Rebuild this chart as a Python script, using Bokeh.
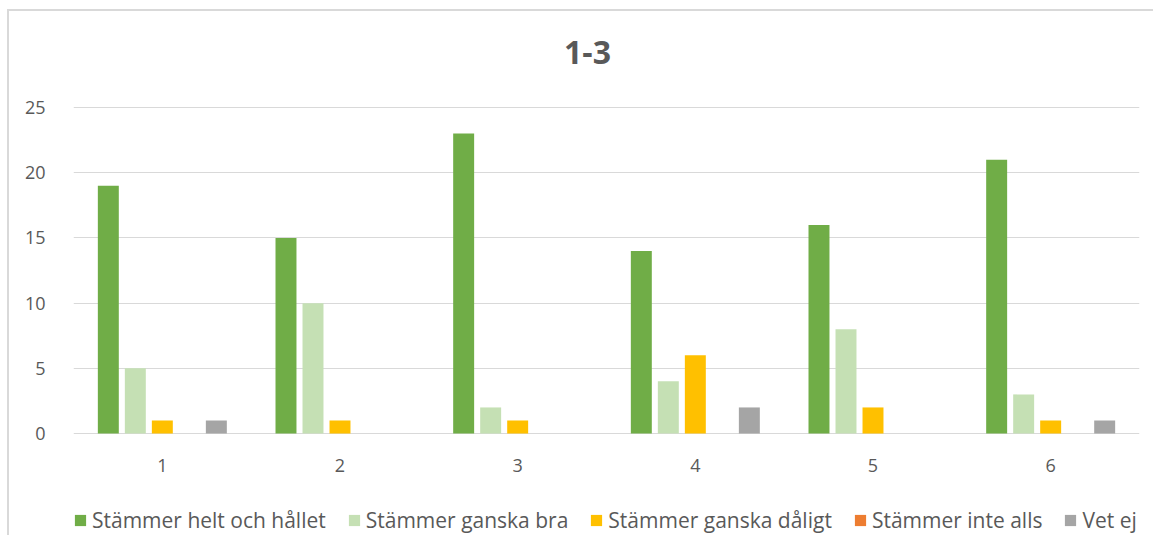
from bokeh.plotting import figure
from bokeh.models import FactorRange, Range1d, Legend, LegendItem, ColumnDataSource, FixedTicker, Label
from bokeh.transform import dodge
from bokeh.embed import file_html
from bokeh.resources import INLINE

title_text = "1-3"
categories = ["1", "2", "3", "4", "5", "6"]
series_names = ["Stämmer helt och hållet", "Stämmer ganska bra", "Stämmer ganska dåligt", "Stämmer inte alls", "Vet ej"]
helt = [19, 15, 23, 14, 16, 21]
ganska_bra = [5, 10, 2, 4, 8, 3]
ganska_daligt = [1, 1, 1, 6, 2, 1]
inte_alls = [0, 0, 0, 0, 0, 0]
vet_ej = [1, 0, 0, 2, 0, 1]
y_ticks = [0, 5, 10, 15, 20, 25]
colors = ["#70AD47", "#C5E0B4", "#FFC000", "#ED7D31", "#A5A5A5"]

FONT = "Open Sans"
TXT = "#595959"

src = ColumnDataSource(dict(cat=categories, s0=helt, s1=ganska_bra, s2=ganska_daligt, s3=inte_alls, s4=vet_ej))

p = figure(x_range=FactorRange(*categories), y_range=Range1d(-7.82, 31.06),
           frame_width=1066, frame_height=507, output_backend="svg", toolbar_location=None,
           min_border_left=64, min_border_right=14, min_border_top=17, min_border_bottom=0,
           styles={"border-left": "2px solid #D9D9D9", "border-top": "2px solid #D9D9D9",
                   "border-right": "0px none", "box-shadow": "none",
                   "margin-left": "7px", "margin-top": "9px"})

offsets = [-0.304, -0.152, 0.0, 0.152, 0.304]
items = []
for i, (name, col) in enumerate(zip(series_names, colors)):
    r = p.vbar(x=dodge("cat", offsets[i], range=p.x_range), top="s%d" % i, width=0.118,
               source=src, fill_color=col, line_color=None)
    items.append(LegendItem(label=name, renderers=[r]))

p.add_layout(Label(x=2.893, y=29.22, text=title_text, text_align="center", text_baseline="middle",
                   text_font=FONT, text_font_size="32px", text_font_style="bold", text_color=TXT))

p.outline_line_color = None
p.xgrid.grid_line_color = None
p.ygrid.grid_line_color = "#D9D9D9"
p.ygrid.grid_line_width = 1
p.yaxis.ticker = FixedTicker(ticks=y_ticks)
p.xaxis.fixed_location = 0

for ax in (p.xaxis[0], p.yaxis[0]):
    ax.axis_line_color = None
    ax.major_tick_line_color = None
    ax.minor_tick_line_color = None
    ax.major_label_text_font = FONT
    ax.major_label_text_font_size = "18px"
    ax.major_label_text_color = TXT
p.yaxis.major_label_standoff = 22
p.xaxis.major_label_standoff = 19

legend = Legend(items=items, orientation="horizontal", location=(0, 1),
                label_text_font=FONT, label_text_font_size="21px", label_text_color=TXT,
                glyph_width=14, glyph_height=14, label_standoff=5, spacing=21,
                border_line_color=None, background_fill_alpha=0, margin=0, padding=0)
p.add_layout(legend)

open("out.html", "w").write(file_html(p, INLINE))
